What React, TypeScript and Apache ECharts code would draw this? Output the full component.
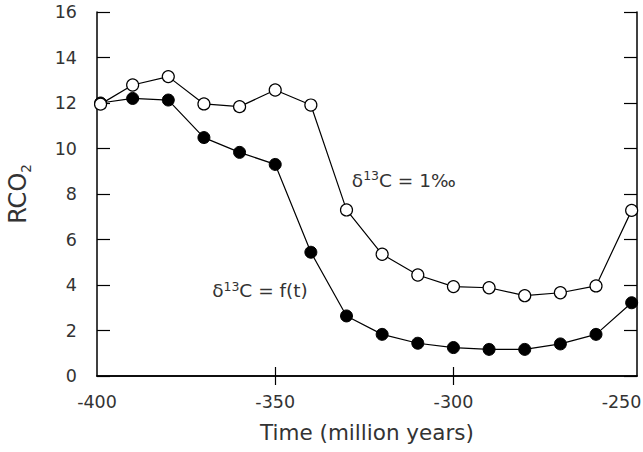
import React, { useEffect, useRef } from "react";
import * as echarts from "echarts";

const times = [-399, -390, -380, -370, -360, -350, -340, -330, -320, -310, -300, -290, -280, -270, -260, -250];
const rco2Constant = [11.95, 12.79, 13.16, 11.96, 11.84, 12.57, 11.91, 7.3, 5.35, 4.44, 3.93, 3.88, 3.53, 3.66, 3.96, 7.28];
const rco2Variable = [12.0, 12.2, 12.13, 10.48, 9.83, 9.3, 5.44, 2.64, 1.83, 1.44, 1.25, 1.17, 1.17, 1.41, 1.83, 3.22];
const xLabelValues = [-400, -350, -300, -250];
const xTickValues = [-350, -300];
const labelConstant = "{d|δ}{s|13}{d|C = 1‰}";
const labelVariable = "{d|δ}{s|13}{d|C = f(t)}";
const annotConstantAt = [-328.5, 8.6];
const annotVariableAt = [-367.7, 3.75];

const FONT = "DejaVu Sans";
const TXT = "#333";

const annotRich = {
  d: { fontSize: 18.5, lineHeight: 22, color: TXT, fontFamily: FONT },
  s: { fontSize: 12.5, lineHeight: 10, verticalAlign: "top", color: TXT, fontFamily: FONT },
};

export default function App() {
  const ref = useRef<HTMLDivElement>(null);
  useEffect(() => {
    if (!ref.current) return;
    const chart = echarts.init(ref.current, undefined, { renderer: "svg" });
    const axisLine = { show: true, lineStyle: { color: "#000", width: 1.5 } };
    chart.setOption({
      animation: false,
      backgroundColor: "#fff",
      textStyle: { fontFamily: FONT },
      grid: { left: 97, right: 6, top: 12, bottom: 76, containLabel: false, outerBoundsMode: "none" },
      xAxis: [
        {
          type: "value",
          min: -400,
          max: -248.5,
          position: "bottom",
          axisLine,
          splitLine: { show: false },
          axisTick: { show: true, inside: true, length: 9, customValues: xTickValues, lineStyle: { color: "#000", width: 1.2 } },
          axisLabel: {
            show: true,
            customValues: xLabelValues,
            margin: 17,
            fontSize: 17.5,
            color: TXT,
            fontFamily: FONT,
            formatter: (v: number) => (Math.round(v) === -250 ? "{r|-250}" : String(Math.round(v))),
            rich: { r: { width: 60, align: "left", fontSize: 17.5, color: TXT, fontFamily: FONT } },
          },
          name: "Time (million years)",
          nameLocation: "middle",
          nameGap: 45,
          nameTextStyle: { fontSize: 21.5, color: TXT, fontFamily: FONT },
        },
        {
          type: "value",
          min: -400,
          max: -248.5,
          position: "top",
          axisLine,
          splitLine: { show: false },
          axisTick: { show: true, inside: true, length: 9, customValues: xTickValues, lineStyle: { color: "#000", width: 1.2 } },
          axisLabel: { show: false },
        },
      ],
      yAxis: [
        {
          type: "value",
          min: 0,
          max: 16,
          interval: 2,
          position: "left",
          axisLine,
          splitLine: { show: false },
          axisTick: { show: true, inside: true, length: 13, lineStyle: { color: "#000", width: 1.2 } },
          axisLabel: { margin: 20, fontSize: 17.5, color: TXT, fontFamily: FONT },
          name: "RCO{sub|2}",
          nameLocation: "middle",
          nameRotate: 90,
          nameGap: 64,
          nameTextStyle: {
            fontSize: 24,
            lineHeight: 30,
            color: TXT,
            fontFamily: FONT,
            rich: { sub: { fontSize: 13.5, lineHeight: 4, verticalAlign: "bottom", color: TXT, fontFamily: FONT } },
          },
        },
        {
          type: "value",
          min: 0,
          max: 16,
          interval: 2,
          position: "right",
          axisLine,
          splitLine: { show: false },
          axisTick: { show: true, inside: true, length: 13, lineStyle: { color: "#000", width: 1.2 } },
          axisLabel: { show: false },
        },
      ],
      series: [
        {
          type: "line",
          data: times.map((t, i) => [t, rco2Variable[i]]),
          symbol: "circle",
          symbolSize: 12,
          lineStyle: { color: "#000", width: 1.2 },
          itemStyle: { color: "#000", borderColor: "#000", borderWidth: 1 },
          markPoint: {
            symbol: "circle",
            symbolSize: 0,
            data: [{ coord: annotVariableAt }],
            label: { show: true, position: "right", distance: 0, formatter: labelVariable, rich: annotRich },
          },
        },
        {
          type: "line",
          data: times.map((t, i) => [t, rco2Constant[i]]),
          symbol: "circle",
          symbolSize: 12,
          lineStyle: { color: "#000", width: 1.2 },
          itemStyle: { color: "#fff", borderColor: "#000", borderWidth: 1.2 },
          markPoint: {
            symbol: "circle",
            symbolSize: 0,
            data: [{ coord: annotConstantAt }],
            label: { show: true, position: "right", distance: 0, formatter: labelConstant, rich: annotRich },
          },
        },
      ],
    });
    return () => chart.dispose();
  }, []);
  return (
    <div
      ref={ref}
      style={{ position: "fixed", left: 0, top: 0, width: 643, height: 452 }}
    />
  );
}
